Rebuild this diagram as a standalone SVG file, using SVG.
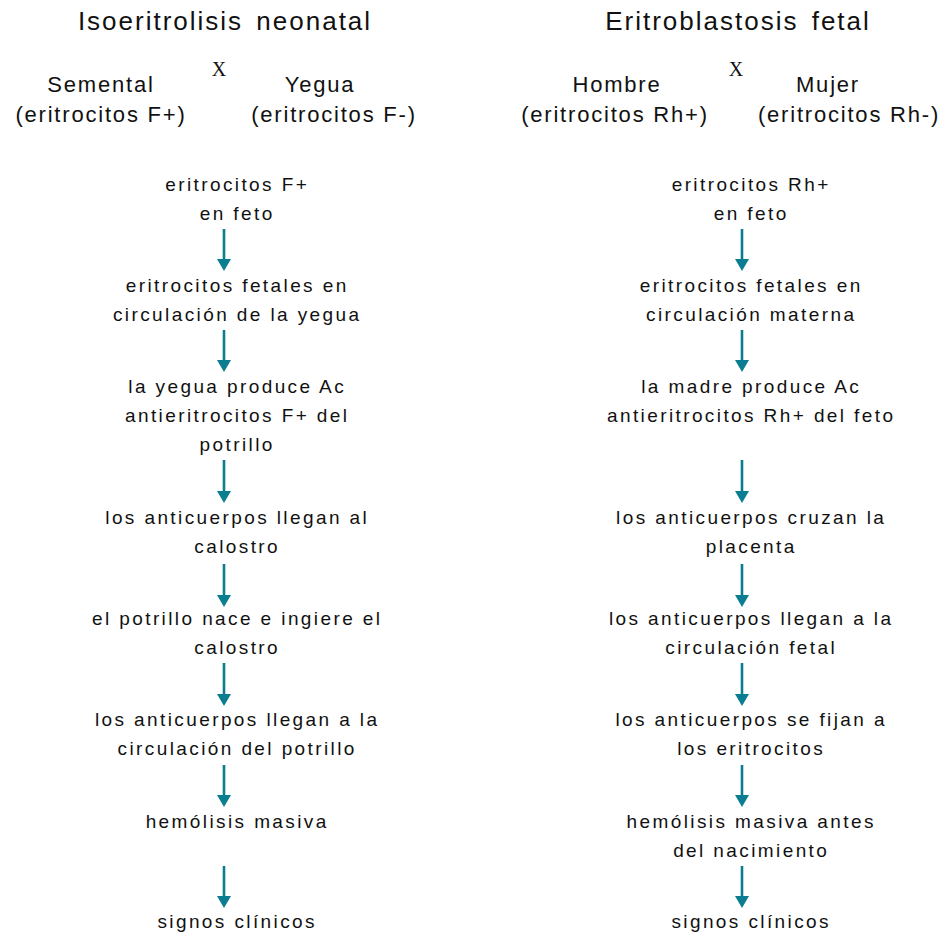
<svg xmlns="http://www.w3.org/2000/svg" width="950" height="936" viewBox="0 0 950 936">
  <style>
    .title { font-family: "Liberation Sans", Arial, sans-serif; font-size: 26px; letter-spacing: 2px; word-spacing: 4px; fill: #111; text-anchor: middle; }
    .head { font-family: "Liberation Sans", Arial, sans-serif; font-size: 22px; letter-spacing: 1.8px; fill: #111; text-anchor: middle; }
    .cross { font-family: "Liberation Serif", "Times New Roman", serif; font-size: 20px; fill: #111; text-anchor: middle; }
    .step { font-family: "Liberation Sans", Arial, sans-serif; font-size: 19px; letter-spacing: 2.4px; fill: #111; text-anchor: middle; }
    .shaft { stroke: #0b7d91; stroke-width: 2.6; fill: none; }
    .head-tip { fill: #0b7d91; }
  </style>
  <defs>
    <!-- arrowhead, tip at origin pointing down -->
    <polygon id="tip" class="head-tip" points="-7,-12 7,-12 0,0"/>
  </defs>
  <rect width="950" height="936" fill="#ffffff"/>

  <!-- Left column: neonatal isoerythrolysis -->
  <g id="left-title">
    <text class="title" x="225" y="30">Isoeritrolisis neonatal</text>
  </g>
  <g id="left-cross">
    <text class="cross" x="219" y="76">X</text>
  </g>
  <g id="sire">
    <text class="head" x="101" y="92">Semental</text>
    <text class="head" x="101" y="122">(eritrocitos F+)</text>
  </g>
  <g id="mare">
    <text class="head" x="320" y="92">Yegua</text>
    <text class="head" x="334" y="122">(eritrocitos F-)</text>
  </g>

  <g id="l1"><text class="step" x="237.2" y="191">eritrocitos F+</text><text class="step" x="237.2" y="220">en feto</text></g>
  <g id="l2"><text class="step" x="237.2" y="292">eritrocitos fetales en</text><text class="step" x="237.2" y="321">circulación de la yegua</text></g>
  <g id="l3"><text class="step" x="237.2" y="393">la yegua produce Ac</text><text class="step" x="237.2" y="422">antieritrocitos F+ del</text><text class="step" x="237.2" y="451">potrillo</text></g>
  <g id="l4"><text class="step" x="237.2" y="524">los anticuerpos llegan al</text><text class="step" x="237.2" y="553">calostro</text></g>
  <g id="l5"><text class="step" x="237.2" y="625">el potrillo nace e ingiere el</text><text class="step" x="237.2" y="654">calostro</text></g>
  <g id="l6"><text class="step" x="237.2" y="726">los anticuerpos llegan a la</text><text class="step" x="237.2" y="755">circulación del potrillo</text></g>
  <g id="l7"><text class="step" x="237.2" y="828">hemólisis masiva</text></g>
  <g id="l8"><text class="step" x="237.2" y="928">signos clínicos</text></g>

  <!-- Right column: fetal erythroblastosis -->
  <g id="right-title">
    <text class="title" x="738" y="30">Eritroblastosis fetal</text>
  </g>
  <g id="right-cross">
    <text class="cross" x="736" y="76">X</text>
  </g>
  <g id="father">
    <text class="head" x="617" y="92">Hombre</text>
    <text class="head" x="615" y="122">(eritrocitos Rh+)</text>
  </g>
  <g id="mother">
    <text class="head" x="828" y="92">Mujer</text>
    <text class="head" x="849" y="122">(eritrocitos Rh-)</text>
  </g>

  <g id="r1"><text class="step" x="751.2" y="191">eritrocitos Rh+</text><text class="step" x="751.2" y="220">en feto</text></g>
  <g id="r2"><text class="step" x="751.2" y="292">eritrocitos fetales en</text><text class="step" x="751.2" y="321">circulación materna</text></g>
  <g id="r3"><text class="step" x="751.2" y="393">la madre produce Ac</text><text class="step" x="751.2" y="422">antieritrocitos Rh+ del feto</text></g>
  <g id="r4"><text class="step" x="751.2" y="524">los anticuerpos cruzan la</text><text class="step" x="751.2" y="553">placenta</text></g>
  <g id="r5"><text class="step" x="751.2" y="625">los anticuerpos llegan a la</text><text class="step" x="751.2" y="654">circulación fetal</text></g>
  <g id="r6"><text class="step" x="751.2" y="726">los anticuerpos se fijan a</text><text class="step" x="751.2" y="755">los eritrocitos</text></g>
  <g id="r7"><text class="step" x="751.2" y="828">hemólisis masiva antes</text><text class="step" x="751.2" y="857">del nacimiento</text></g>
  <g id="r8"><text class="step" x="751.2" y="928">signos clínicos</text></g>

  <!-- Connectors -->
  <g id="connectors">
    <line class="shaft" x1="224" y1="229" x2="224" y2="262"/><use href="#tip" x="224" y="271"/>
    <line class="shaft" x1="224" y1="330" x2="224" y2="363"/><use href="#tip" x="224" y="372"/>
    <line class="shaft" x1="224" y1="460" x2="224" y2="494"/><use href="#tip" x="224" y="503"/>
    <line class="shaft" x1="224" y1="564" x2="224" y2="598"/><use href="#tip" x="224" y="607"/>
    <line class="shaft" x1="224" y1="663" x2="224" y2="697"/><use href="#tip" x="224" y="706"/>
    <line class="shaft" x1="224" y1="765" x2="224" y2="798"/><use href="#tip" x="224" y="807"/>
    <line class="shaft" x1="224" y1="866" x2="224" y2="899"/><use href="#tip" x="224" y="908"/>

    <line class="shaft" x1="742" y1="229" x2="742" y2="262"/><use href="#tip" x="742" y="271"/>
    <line class="shaft" x1="742" y1="330" x2="742" y2="363"/><use href="#tip" x="742" y="372"/>
    <line class="shaft" x1="742" y1="460" x2="742" y2="494"/><use href="#tip" x="742" y="503"/>
    <line class="shaft" x1="742" y1="564" x2="742" y2="598"/><use href="#tip" x="742" y="607"/>
    <line class="shaft" x1="742" y1="663" x2="742" y2="697"/><use href="#tip" x="742" y="706"/>
    <line class="shaft" x1="742" y1="765" x2="742" y2="798"/><use href="#tip" x="742" y="807"/>
    <line class="shaft" x1="742" y1="866" x2="742" y2="899"/><use href="#tip" x="742" y="908"/>
  </g>
</svg>
